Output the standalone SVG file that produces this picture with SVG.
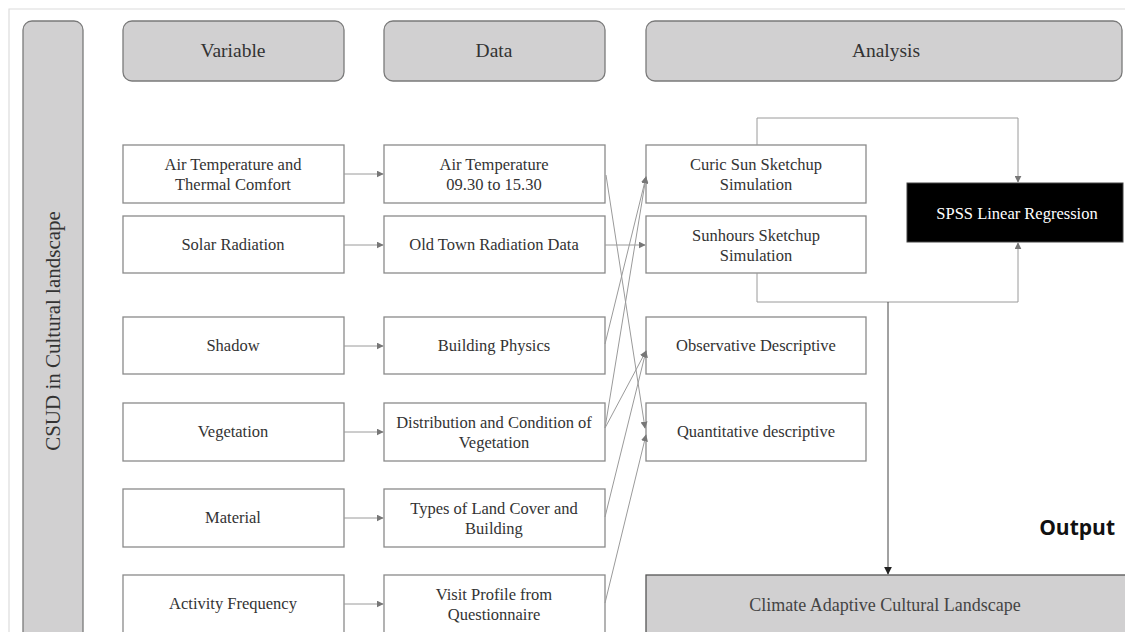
<svg xmlns="http://www.w3.org/2000/svg" width="1125" height="632" viewBox="0 0 1125 632">
<style>
.hdr{fill:#d1d0d1;stroke:#7a7a7a;stroke-width:1.3}
.box{fill:#fff;stroke:#8a8a8a;stroke-width:1.3}
.t{font-family:"Liberation Serif",serif;font-size:16.5px;fill:#333;text-anchor:middle}
.th{font-family:"Liberation Serif",serif;font-size:19.5px;fill:#333;text-anchor:middle}
.c{fill:none;stroke:#9a9a9a;stroke-width:1}
</style>
<defs>
<marker id="a" viewBox="0 0 10 10" refX="9" refY="5" markerWidth="7" markerHeight="7" markerUnits="userSpaceOnUse" orient="auto"><path d="M0,0L10,5L0,10z" fill="#777"/></marker>
<marker id="b" viewBox="0 0 10 10" refX="9" refY="5" markerWidth="8" markerHeight="8" markerUnits="userSpaceOnUse" orient="auto"><path d="M0,0L10,5L0,10z" fill="#222"/></marker>
</defs>
<rect x="0" y="0" width="1125" height="632" fill="#fff"/>
<path d="M9,640V9H1130" fill="none" stroke="#dcdcdc" stroke-width="1.2"/>

<g id="csud"><rect class="hdr" x="23" y="21" width="60" height="640" rx="9"/><text class="th" style="font-size:21px" transform="translate(60,331) rotate(-90)">CSUD in Cultural landscape</text></g>
<g id="h-variable"><rect class="hdr" x="123" y="21" width="221" height="60" rx="9"/><text class="th" x="233" y="57">Variable</text></g>
<g id="h-data"><rect class="hdr" x="384" y="21" width="221" height="60" rx="9"/><text class="th" x="494" y="57">Data</text></g>
<g id="h-analysis"><rect class="hdr" x="646" y="21" width="476" height="60" rx="9"/><text class="th" x="886" y="57">Analysis</text></g>

<g id="v1"><rect class="box" x="123" y="145" width="221" height="58"/><text class="t" x="233" y="170">Air Temperature and</text><text class="t" x="233" y="190">Thermal Comfort</text></g>
<g id="v2"><rect class="box" x="123" y="216" width="221" height="57"/><text class="t" x="233" y="250">Solar Radiation</text></g>
<g id="v3"><rect class="box" x="123" y="317" width="221" height="57"/><text class="t" x="233" y="351">Shadow</text></g>
<g id="v4"><rect class="box" x="123" y="403" width="221" height="58"/><text class="t" x="233" y="437">Vegetation</text></g>
<g id="v5"><rect class="box" x="123" y="489" width="221" height="58"/><text class="t" x="233" y="523">Material</text></g>
<g id="v6"><rect class="box" x="123" y="575" width="221" height="64"/><text class="t" x="233" y="609">Activity Frequency</text></g>

<g id="d1"><rect class="box" x="384" y="145" width="221" height="58"/><text class="t" x="494" y="170">Air Temperature</text><text class="t" x="494" y="190">09.30 to 15.30</text></g>
<g id="d2"><rect class="box" x="384" y="216" width="221" height="57"/><text class="t" x="494" y="250">Old Town Radiation Data</text></g>
<g id="d3"><rect class="box" x="384" y="317" width="221" height="57"/><text class="t" x="494" y="351">Building Physics</text></g>
<g id="d4"><rect class="box" x="384" y="403" width="221" height="58"/><text class="t" x="494" y="428">Distribution and Condition of</text><text class="t" x="494" y="448">Vegetation</text></g>
<g id="d5"><rect class="box" x="384" y="489" width="221" height="58"/><text class="t" x="494" y="514">Types of Land Cover and</text><text class="t" x="494" y="534">Building</text></g>
<g id="d6"><rect class="box" x="384" y="575" width="221" height="64"/><text class="t" x="494" y="600">Visit Profile from</text><text class="t" x="494" y="620">Questionnaire</text></g>

<g id="a1"><rect class="box" x="646" y="145" width="220" height="58"/><text class="t" x="756" y="170">Curic Sun Sketchup</text><text class="t" x="756" y="190">Simulation</text></g>
<g id="a2"><rect class="box" x="646" y="216" width="220" height="57"/><text class="t" x="756" y="241">Sunhours Sketchup</text><text class="t" x="756" y="261">Simulation</text></g>
<g id="a3"><rect class="box" x="646" y="317" width="220" height="57"/><text class="t" x="756" y="351">Observative Descriptive</text></g>
<g id="a4"><rect class="box" x="646" y="403" width="220" height="58"/><text class="t" x="756" y="437">Quantitative descriptive</text></g>

<g id="spss"><rect x="907" y="183" width="216" height="59" fill="#000" stroke="#444" stroke-width="1"/><text class="t" x="1017" y="219" style="fill:#fff">SPSS Linear Regression</text></g>
<g id="climate"><rect x="646" y="575" width="480" height="64" fill="#d1d0d1" stroke="#555" stroke-width="1.3"/><text class="th" x="885" y="611" style="fill:#444;font-size:18px">Climate Adaptive Cultural Landscape</text></g>
<g id="output"><text x="1115" y="535" font-family="Open Sans, Liberation Sans, sans-serif" font-size="21" font-weight="bold" fill="#111" text-anchor="end">Output</text></g>

<g id="connectors">
<line class="c" x1="344" y1="174" x2="383" y2="174" marker-end="url(#a)"/>
<line class="c" x1="344" y1="245" x2="383" y2="245" marker-end="url(#a)"/>
<line class="c" x1="344" y1="346" x2="383" y2="346" marker-end="url(#a)"/>
<line class="c" x1="344" y1="432" x2="383" y2="432" marker-end="url(#a)"/>
<line class="c" x1="344" y1="518" x2="383" y2="518" marker-end="url(#a)"/>
<line class="c" x1="344" y1="604" x2="383" y2="604" marker-end="url(#a)"/>
<line class="c" x1="605" y1="245" x2="645" y2="245" marker-end="url(#a)"/>
<line class="c" x1="606" y1="175" x2="645" y2="428" marker-end="url(#a)"/>
<line class="c" x1="605" y1="344" x2="646" y2="177" marker-end="url(#a)"/>
<line class="c" x1="605" y1="428" x2="646" y2="177" marker-end="url(#a)"/>
<line class="c" x1="605" y1="428" x2="646" y2="351" marker-end="url(#a)"/>
<line class="c" x1="605" y1="517" x2="646" y2="351" marker-end="url(#a)"/>
<line class="c" x1="605" y1="603" x2="646" y2="435" marker-end="url(#a)"/>
<polyline class="c" points="757,145 757,118 1018,118 1018,182" marker-end="url(#a)"/>
<polyline class="c" points="757,273 757,302 1018,302 1018,243" marker-end="url(#a)"/>
<line x1="888" y1="302" x2="888" y2="574" stroke="#444" stroke-width="1" marker-end="url(#b)"/>
</g>
</svg>
